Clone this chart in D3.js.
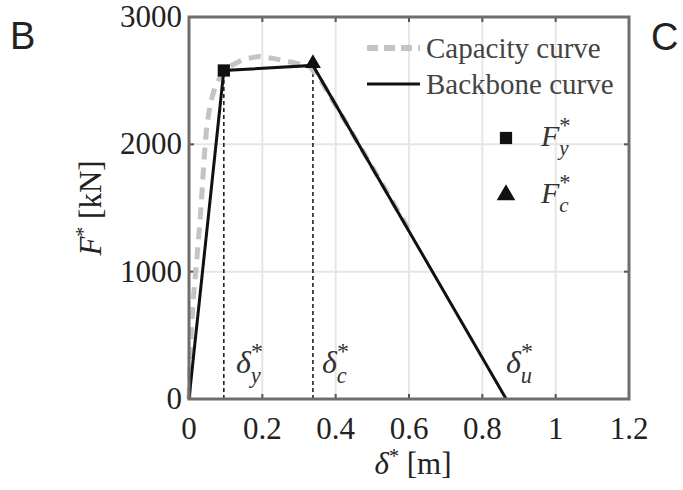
<!DOCTYPE html>
<html>
<head>
<meta charset="utf-8">
<script src="https://cdn.jsdelivr.net/npm/d3@7"></script>
<style>
  body { margin: 0; background: #fff; }
  svg { display: block; }
  text { font-family: "Liberation Serif", "DejaVu Serif", serif; fill: #222; }
</style>
</head>
<body>
<svg id="chart"></svg>
<script>
// Chart size and plot box
const width = 683, height = 490;
const margin = { top: 17, right: 54, bottom: 91, left: 189 };

// Data
const capacityX = [0, 0.004, 0.012, 0.022, 0.03, 0.036, 0.041, 0.048, 0.058, 0.07, 0.085, 0.11, 0.15, 0.19, 0.23, 0.28, 0.33, 0.36, 0.42, 0.5, 0.6];
const capacityY = [0, 380, 800, 1120, 1400, 1650, 1880, 2130, 2320, 2440, 2530, 2610, 2670, 2690, 2675, 2645, 2610, 2500, 2210, 1820, 1330];
const backboneX = [0, 0.095, 0.338, 0.865];
const backboneY = [0, 2580, 2620, 0];
const yieldPoint = { x: 0.095, y: 2580 };
const capPoint = { x: 0.338, y: 2620 };
const xTicks = [0, 0.2, 0.4, 0.6, 0.8, 1, 1.2];
const yTicks = [0, 1000, 2000, 3000];
const legendNames = ["Capacity curve", "Backbone curve"];

const svg = d3.select("#chart").attr("width", width).attr("height", height);

const x = d3.scaleLinear().domain([0, 1.2]).range([margin.left, width - margin.right]);
const y = d3.scaleLinear().domain([0, 3000]).range([height - margin.bottom, margin.top]);

// grid lines
svg.append("g")
  .selectAll("line")
  .data(xTicks.slice(1, -1))
  .enter()
  .append("line")
  .attr("x1", d => x(d)).attr("x2", d => x(d))
  .attr("y1", y(0)).attr("y2", y(3000))
  .attr("stroke", "#e6e6e6").attr("stroke-width", 2);

svg.append("g")
  .selectAll("line")
  .data(yTicks.slice(1, -1))
  .enter()
  .append("line")
  .attr("x1", x(0)).attr("x2", x(1.2))
  .attr("y1", d => y(d)).attr("y2", d => y(d))
  .attr("stroke", "#e6e6e6").attr("stroke-width", 2);

// inward ticks (bottom, top, left, right)
const tickG = svg.append("g").attr("stroke", "#555").attr("stroke-width", 2);
xTicks.slice(1, -1).forEach(t => {
  tickG.append("line").attr("x1", x(t)).attr("x2", x(t)).attr("y1", y(0)).attr("y2", y(0) - 5);
  tickG.append("line").attr("x1", x(t)).attr("x2", x(t)).attr("y1", y(3000)).attr("y2", y(3000) + 5);
});
yTicks.slice(1, -1).forEach(t => {
  tickG.append("line").attr("x1", x(0)).attr("x2", x(0) + 5).attr("y1", y(t)).attr("y2", y(t));
  tickG.append("line").attr("x1", x(1.2)).attr("x2", x(1.2) - 5).attr("y1", y(t)).attr("y2", y(t));
});

// tick labels
svg.append("g")
  .selectAll("text")
  .data(xTicks)
  .enter()
  .append("text")
  .attr("x", d => x(d))
  .attr("y", y(0) + 40)
  .attr("text-anchor", "middle")
  .style("font-size", "31px")
  .text(d => d3.format("~g")(d));

svg.append("g")
  .selectAll("text")
  .data(yTicks)
  .enter()
  .append("text")
  .attr("x", x(0) - 7)
  .attr("y", d => y(d) + 10)
  .attr("text-anchor", "end")
  .style("font-size", "31px")
  .text(d => d);

// dashed guide lines at delta_y and delta_c
svg.append("g")
  .selectAll("line")
  .data([yieldPoint, capPoint])
  .enter()
  .append("line")
  .attr("x1", d => x(d.x)).attr("x2", d => x(d.x))
  .attr("y1", y(0)).attr("y2", d => y(d.y))
  .attr("stroke", "#111").attr("stroke-width", 1.5)
  .attr("stroke-dasharray", "4,3");

// curves
const line = d3.line().x(d => x(d[0])).y(d => y(d[1]));
svg.append("path")
  .datum(d3.zip(capacityX, capacityY))
  .attr("d", line)
  .attr("fill", "none")
  .attr("stroke", "#c4c4c4")
  .attr("stroke-width", 5)
  .attr("stroke-dasharray", "12,8");

svg.append("path")
  .datum(d3.zip(backboneX, backboneY))
  .attr("d", line)
  .attr("fill", "none")
  .attr("stroke", "#111")
  .attr("stroke-width", 3);

// markers
svg.append("path")
  .attr("d", d3.symbol(d3.symbolSquare, 150)())
  .attr("transform", `translate(${x(yieldPoint.x)},${y(yieldPoint.y)})`)
  .attr("fill", "#111");
svg.append("path")
  .attr("d", d3.symbol(d3.symbolTriangle, 110)())
  .attr("transform", `translate(${x(capPoint.x)},${y(capPoint.y) - 2})`)
  .attr("fill", "#111");

// frame
svg.append("rect")
  .attr("x", x(0)).attr("y", y(3000))
  .attr("width", x(1.2) - x(0)).attr("height", y(0) - y(3000))
  .attr("fill", "none").attr("stroke", "#6e6e6e").attr("stroke-width", 3);

// legend
const leg = svg.append("g");
leg.append("line")
  .attr("x1", 367).attr("x2", 420).attr("y1", 48).attr("y2", 48)
  .attr("stroke", "#c4c4c4").attr("stroke-width", 6).attr("stroke-dasharray", "11,6");
leg.append("line")
  .attr("x1", 367).attr("x2", 420).attr("y1", 84).attr("y2", 84)
  .attr("stroke", "#111").attr("stroke-width", 3);
leg.selectAll("text")
  .data(legendNames)
  .enter()
  .append("text")
  .attr("x", 426)
  .attr("y", (d, i) => 58 + i * 36)
  .style("font-size", "29px")
  .style("fill", "#444")
  .text(d => d);

leg.append("path")
  .attr("d", d3.symbol(d3.symbolSquare, 150)())
  .attr("transform", "translate(506,138)")
  .attr("fill", "#111");
leg.append("path")
  .attr("d", d3.symbol(d3.symbolTriangle, 150)())
  .attr("transform", "translate(506,195)")
  .attr("fill", "#111");

// symbol with * superscript and a subscript, kept in one text element
function subSup(g, px, py, base, sub, size) {
  const t = g.append("text").attr("x", px).attr("y", py)
    .style("font-size", size + "px").style("fill", "#333");
  t.append("tspan").style("font-style", "italic").text(base);
  t.append("tspan").attr("dy", -size * 0.45).style("font-size", (size * 0.75) + "px").text("*");
  t.append("tspan").attr("dx", -size * 0.38).attr("dy", size * 0.75)
    .style("font-size", (size * 0.7) + "px").style("font-style", "italic").text(sub);
}
subSup(leg, 541, 146, "F", "y", 30);
subSup(leg, 541, 203, "F", "c", 30);

// delta labels in the plot
subSup(svg, 236, 373, "δ", "y", 32);
subSup(svg, 322, 373, "δ", "c", 32);
subSup(svg, 506, 373, "δ", "u", 32);

// axis titles
const xt = svg.append("text")
  .attr("x", 413).attr("y", 474)
  .attr("text-anchor", "middle")
  .style("font-size", "31px");
xt.append("tspan").style("font-style", "italic").text("δ");
xt.append("tspan").attr("dy", -11).style("font-size", "20px").text("*");
xt.append("tspan").attr("dy", 11).text(" [m]");

const yt = svg.append("text")
  .attr("transform", `translate(101,${(y(0) + y(3000)) / 2}) rotate(-90)`)
  .attr("text-anchor", "middle")
  .style("font-size", "31px");
yt.append("tspan").style("font-style", "italic").text("F");
yt.append("tspan").attr("dy", -11).style("font-size", "20px").text("*");
yt.append("tspan").attr("dy", 11).text(" [kN]");

// panel letters
svg.append("text").attr("x", 10).attr("y", 49)
  .style("font-family", "Liberation Sans, Arial, sans-serif").style("font-size", "38px").text("B");
svg.append("text").attr("x", 651).attr("y", 50)
  .style("font-family", "Liberation Sans, Arial, sans-serif").style("font-size", "38px").text("C");
</script>
</body>
</html>
